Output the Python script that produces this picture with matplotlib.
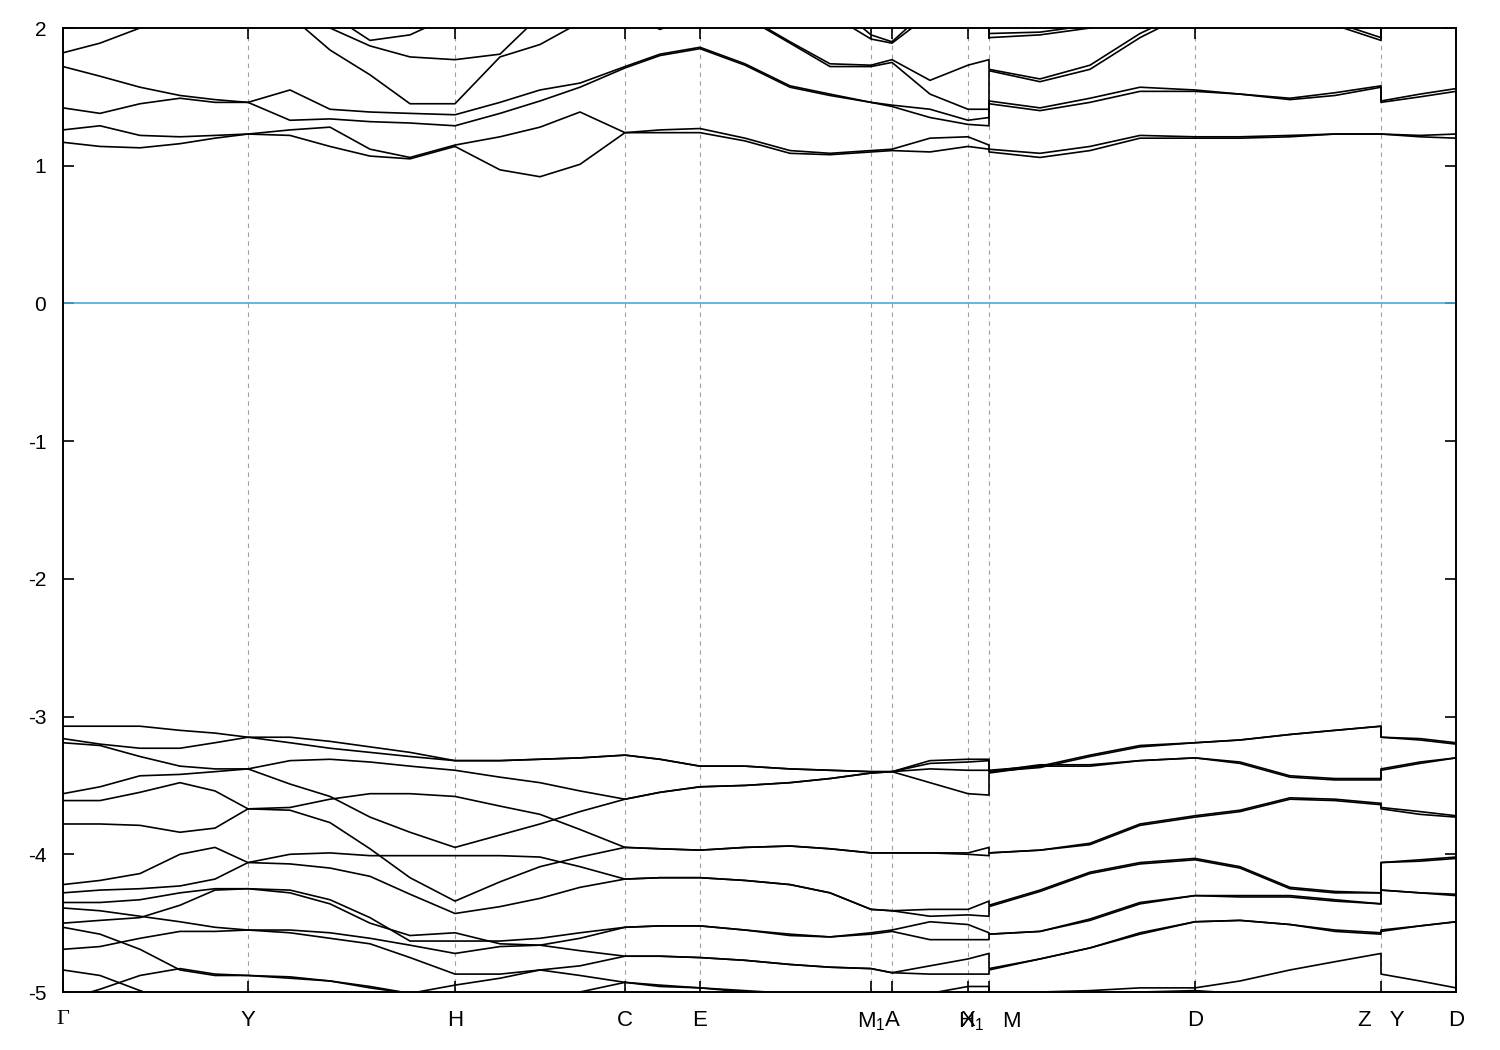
import matplotlib
matplotlib.use('Agg')
import matplotlib.pyplot as plt

plt.rcParams['font.family'] = ['Liberation Sans', 'DejaVu Sans']
plt.rcParams['mathtext.fontset'] = 'custom'
plt.rcParams['mathtext.rm'] = 'Liberation Sans'
plt.rcParams['mathtext.it'] = 'Liberation Sans'

# k-path coordinate of every sample (H1|M and Z|Y appear twice: jump)
kpath = [0.000, 0.037, 0.077, 0.117, 0.152, 0.185, 0.227, 0.267, 0.307, 0.347,
         0.392, 0.437, 0.477, 0.517, 0.562, 0.597, 0.637, 0.682, 0.727, 0.767,
         0.808, 0.829, 0.867, 0.905, 0.926, 0.926, 0.977, 1.027, 1.077, 1.132,
         1.177, 1.227, 1.272, 1.318, 1.318, 1.357, 1.393]
sym_idx = [0, 5, 10, 14, 16, 20, 21, 23, 24, 29, 33, 36]
sym_lab = ['Γ', 'Y', 'H', 'C', 'E', 'M$_1$', 'A', 'X', 'H$_1$   M', 'D', 'Z   Y', 'D']

# valence bands (eV)
vb01 = [-3.07, -3.07, -3.07, -3.10, -3.12, -3.15, -3.15, -3.18, -3.22, -3.26, -3.32, -3.32, -3.31,
        -3.30, -3.28, -3.31, -3.36, -3.36, -3.38, -3.39, -3.40, -3.40, -3.32, -3.31, -3.31,
        -3.39, -3.36, -3.28, -3.21, -3.19, -3.17, -3.13, -3.10, -3.07, -3.15, -3.16, -3.19]
vb02 = [-3.16, -3.20, -3.23, -3.23, -3.19, -3.15, -3.19, -3.23, -3.26, -3.29, -3.32, -3.32, -3.31,
        -3.30, -3.28, -3.31, -3.36, -3.36, -3.38, -3.39, -3.40, -3.40, -3.34, -3.33, -3.32,
        -3.40, -3.37, -3.29, -3.22, -3.19, -3.17, -3.13, -3.10, -3.07, -3.15, -3.17, -3.20]
vb03 = [-3.19, -3.21, -3.29, -3.36, -3.38, -3.38, -3.32, -3.31, -3.33, -3.36, -3.39, -3.44, -3.48,
        -3.54, -3.60, -3.55, -3.51, -3.50, -3.48, -3.45, -3.41, -3.40, -3.38, -3.39, -3.39,
        -3.40, -3.35, -3.35, -3.32, -3.30, -3.33, -3.43, -3.45, -3.45, -3.38, -3.33, -3.30]
vb04 = [-3.56, -3.51, -3.43, -3.42, -3.40, -3.38, -3.49, -3.58, -3.73, -3.84, -3.95, -3.86, -3.78,
        -3.69, -3.60, -3.55, -3.51, -3.50, -3.48, -3.45, -3.41, -3.40, -3.48, -3.56, -3.57,
        -3.41, -3.36, -3.36, -3.32, -3.30, -3.34, -3.44, -3.46, -3.46, -3.39, -3.34, -3.30]
vb05 = [-3.61, -3.61, -3.55, -3.48, -3.54, -3.67, -3.66, -3.60, -3.56, -3.56, -3.58, -3.65, -3.71,
        -3.82, -3.95, -3.96, -3.97, -3.95, -3.94, -3.96, -3.99, -3.99, -3.99, -3.99, -3.95,
        -3.99, -3.97, -3.92, -3.78, -3.72, -3.68, -3.59, -3.60, -3.63, -3.66, -3.69, -3.72]
vb06 = [-3.78, -3.78, -3.79, -3.84, -3.81, -3.67, -3.68, -3.77, -3.96, -4.17, -4.34, -4.20, -4.09,
        -4.02, -3.95, -3.96, -3.97, -3.95, -3.94, -3.96, -3.99, -3.99, -3.99, -4.00, -4.01,
        -3.99, -3.97, -3.93, -3.79, -3.73, -3.69, -3.60, -3.61, -3.64, -3.67, -3.71, -3.73]
vb07 = [-4.28, -4.26, -4.25, -4.23, -4.18, -4.06, -4.00, -3.99, -4.01, -4.01, -4.01, -4.01, -4.02,
        -4.09, -4.18, -4.17, -4.17, -4.19, -4.22, -4.28, -4.40, -4.41, -4.40, -4.40, -4.34,
        -4.37, -4.26, -4.13, -4.06, -4.03, -4.09, -4.24, -4.27, -4.28, -4.06, -4.05, -4.03]
vb08 = [-4.22, -4.19, -4.14, -4.00, -3.95, -4.06, -4.07, -4.10, -4.16, -4.29, -4.43, -4.38, -4.32,
        -4.24, -4.18, -4.17, -4.17, -4.19, -4.22, -4.28, -4.40, -4.41, -4.45, -4.44, -4.45,
        -4.38, -4.27, -4.14, -4.07, -4.04, -4.10, -4.25, -4.28, -4.28, -4.06, -4.04, -4.02]
vb09 = [-4.35, -4.35, -4.33, -4.28, -4.25, -4.25, -4.26, -4.33, -4.46, -4.63, -4.63, -4.63, -4.61,
        -4.57, -4.53, -4.52, -4.52, -4.55, -4.58, -4.60, -4.57, -4.55, -4.49, -4.51, -4.57,
        -4.58, -4.56, -4.47, -4.35, -4.30, -4.30, -4.30, -4.33, -4.36, -4.26, -4.28, -4.29]
vb10 = [-4.50, -4.48, -4.46, -4.37, -4.26, -4.25, -4.28, -4.36, -4.50, -4.59, -4.57, -4.65, -4.66,
        -4.61, -4.53, -4.52, -4.52, -4.55, -4.59, -4.60, -4.58, -4.56, -4.62, -4.62, -4.62,
        -4.58, -4.56, -4.48, -4.36, -4.30, -4.31, -4.31, -4.34, -4.36, -4.26, -4.28, -4.30]
vb11 = [-4.39, -4.41, -4.45, -4.49, -4.53, -4.55, -4.55, -4.57, -4.61, -4.66, -4.72, -4.67, -4.66,
        -4.70, -4.74, -4.74, -4.75, -4.77, -4.80, -4.82, -4.83, -4.86, -4.81, -4.76, -4.72,
        -4.83, -4.76, -4.68, -4.57, -4.49, -4.48, -4.51, -4.55, -4.57, -4.55, -4.52, -4.49]
vb12 = [-4.69, -4.67, -4.61, -4.56, -4.56, -4.55, -4.57, -4.61, -4.65, -4.75, -4.87, -4.87, -4.84,
        -4.81, -4.74, -4.74, -4.75, -4.77, -4.80, -4.82, -4.83, -4.86, -4.87, -4.87, -4.87,
        -4.84, -4.76, -4.68, -4.58, -4.49, -4.48, -4.51, -4.56, -4.58, -4.56, -4.52, -4.49]
vb13 = [-4.84, -4.88, -4.99, -5.09, -5.11, -5.14, -5.14, -5.12, -5.09, -5.01, -4.95, -4.90, -4.84,
        -4.88, -4.93, -4.95, -4.97, -4.99, -5.01, -5.05, -5.07, -5.07, -5.01, -4.96, -4.96,
        -5.00, -5.00, -4.99, -4.97, -4.97, -4.92, -4.84, -4.78, -4.72, -4.87, -4.92, -4.97]
vb14 = [-4.53, -4.58, -4.69, -4.84, -4.88, -4.88, -4.89, -4.92, -4.96, -5.01, -5.06, -5.09, -5.11,
        -5.00, -4.93, -4.96, -4.97, -5.00, -5.03, -5.07, -5.11, -5.11, -5.09, -5.06, -5.04,
        -5.04, -5.03, -5.01, -5.00, -4.99, -5.01, -5.06, -5.09, -5.11, -5.06, -5.04, -5.00]
vb15 = [-5.06, -4.98, -4.88, -4.83, -4.87, -4.88, -4.90, -4.92, -4.97, -5.01, -5.07, -5.11, -5.11,
        -5.12, -5.12, -5.12, -5.12, -5.12, -5.12, -5.12, -5.12, -5.12, -5.12, -5.12, -5.12,
        -5.12, -5.12, -5.12, -5.12, -5.12, -5.12, -5.12, -5.12, -5.12, -5.12, -5.12, -5.12]

# conduction bands (eV)
cb1 = [1.17, 1.14, 1.13, 1.16, 1.20, 1.23, 1.22, 1.14, 1.07, 1.05, 1.14, 0.97, 0.92,
       1.01, 1.24, 1.24, 1.24, 1.18, 1.09, 1.08, 1.10, 1.11, 1.10, 1.14, 1.12,
       1.10, 1.06, 1.11, 1.20, 1.20, 1.20, 1.21, 1.23, 1.23, 1.23, 1.21, 1.20]
cb2 = [1.26, 1.29, 1.22, 1.21, 1.22, 1.23, 1.26, 1.28, 1.12, 1.06, 1.15, 1.21, 1.28,
       1.39, 1.24, 1.26, 1.27, 1.20, 1.11, 1.09, 1.11, 1.12, 1.20, 1.21, 1.15,
       1.12, 1.09, 1.14, 1.22, 1.21, 1.21, 1.22, 1.23, 1.23, 1.23, 1.22, 1.23]
cb3 = [1.42, 1.38, 1.45, 1.49, 1.46, 1.46, 1.33, 1.34, 1.32, 1.31, 1.29, 1.38, 1.47,
       1.57, 1.71, 1.80, 1.85, 1.73, 1.57, 1.51, 1.46, 1.43, 1.35, 1.30, 1.29,
       1.45, 1.40, 1.46, 1.54, 1.54, 1.52, 1.48, 1.51, 1.57, 1.46, 1.50, 1.54]
cb4 = [1.72, 1.65, 1.57, 1.51, 1.48, 1.46, 1.55, 1.41, 1.39, 1.38, 1.37, 1.46, 1.55,
       1.60, 1.72, 1.81, 1.86, 1.74, 1.58, 1.52, 1.46, 1.44, 1.41, 1.33, 1.35,
       1.47, 1.42, 1.49, 1.57, 1.55, 1.52, 1.49, 1.53, 1.58, 1.47, 1.52, 1.56]
cb5 = [1.82, 1.89, 2.00, 2.10, 2.15, 2.18, 2.09, 1.84, 1.66, 1.45, 1.45, 1.79, 1.88,
       2.04, 2.10, 1.99, 2.10, 2.08, 1.89, 1.72, 1.72, 1.75, 1.52, 1.41, 1.41,
       1.69, 1.61, 1.70, 1.93, 2.13, 2.15, 2.13, 2.02, 1.91, 2.13, 2.13, 2.13]
cb6 = [2.13, 2.13, 2.15, 2.15, 2.15, 2.18, 2.13, 2.00, 1.87, 1.79, 1.77, 1.81, 2.09,
       2.13, 2.13, 2.13, 2.13, 2.09, 1.90, 1.74, 1.73, 1.77, 1.62, 1.73, 1.77,
       1.70, 1.63, 1.73, 1.96, 2.15, 2.15, 2.15, 2.04, 1.93, 2.15, 2.15, 2.15]
cb7 = [2.15, 2.15, 2.15, 2.15, 2.15, 2.18, 2.15, 2.10, 1.91, 1.95, 2.10, 2.13, 2.15,
       2.15, 2.15, 2.15, 2.15, 2.13, 2.13, 2.10, 1.92, 1.89, 2.10, 2.15, 2.15,
       1.93, 1.95, 2.00, 2.10, 2.15, 2.15, 2.15, 2.10, 2.10, 2.15, 2.15, 2.15]
cb8 = [2.20, 2.20, 2.20, 2.20, 2.20, 2.20, 2.20, 2.20, 2.20, 2.20, 2.20, 2.20, 2.20,
       2.20, 2.20, 2.20, 2.20, 2.20, 2.20, 2.20, 1.95, 1.90, 2.15, 2.20, 2.20,
       1.96, 1.97, 2.02, 2.15, 2.20, 2.20, 2.20, 2.20, 2.20, 2.20, 2.20, 2.20]

bands = [vb01, vb02, vb03, vb04, vb05, vb06, vb07, vb08, vb09, vb10, vb11, vb12,
         vb13, vb14, vb15, cb1, cb2, cb3, cb4, cb5, cb6, cb7, cb8]

fig = plt.figure(figsize=(15, 10.5), dpi=100)
ax = fig.add_axes([63/1500, 58/1050, 1393/1500, 964/1050])

kticks = [kpath[i] for i in sym_idx]
for kv in kticks[1:-1]:
    ax.axvline(kv, color='#a0a0a0', lw=0.8, ls=(0, (4, 4)), zorder=1)
ax.axhline(0, color='#4aa8dc', lw=1.2, zorder=2)

for b in bands:
    ax.plot(kpath, b, color='black', lw=1.2, zorder=3)

ax.set_xlim(kpath[0], kpath[-1])
ax.set_ylim(-5, 2)
ax.set_xticks(kticks)
ax.set_xticklabels(sym_lab)
yt = list(range(-5, 3))
ax.set_yticks(yt)
ax.set_yticklabels([str(v) for v in yt])
ax.tick_params(axis='both', direction='in', length=8, width=1.2,
               top=True, right=True)
ax.tick_params(axis='x', pad=13, labelsize=16)
ax.tick_params(axis='y', pad=12, labelsize=15)
ax.get_xticklabels()[0].set_fontfamily('Liberation Serif')
for s in ax.spines.values():
    s.set_linewidth(1.4)

fig.savefig('out.png', dpi=100)
